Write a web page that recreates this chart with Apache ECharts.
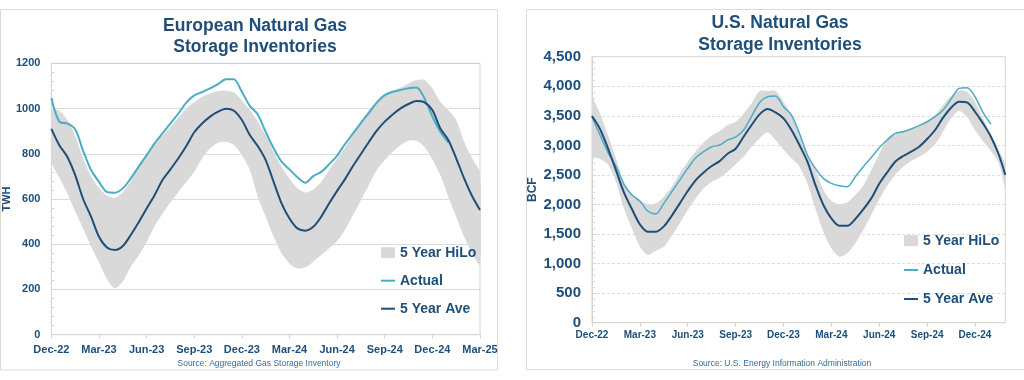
<!DOCTYPE html>
<html><head><meta charset="utf-8">
<script src="https://cdn.jsdelivr.net/npm/echarts@6/dist/echarts.min.js"></script>
<style>html,body{margin:0;padding:0;background:#fff}#c{width:1024px;height:380px}</style>
</head><body><div id="c"></div>
<script>
// ---------- European chart (TWH), x = months since Dec-22 ----------
const euMonths = [0,0.5,1,1.5,2,2.5,3,3.5,4,4.5,5,5.5,6,6.5,7,7.5,8,8.5,9,9.5,10,10.5,11,11.5,12,12.5,13,13.5,14,14.5,15,15.5,16,16.5,17,17.5,18,18.5,19,19.5,20,20.5,21,21.5,22,22.5,23,23.5,24,24.5,25,25.5,26,26.5,27];
const euHi = [993,990,950,880,780,700,650,615,605,630, 680,735,790,840,880,920,960,1000,1028,1052, 1067,1077,1079,1071,1037,993,942,883,809,743, 691,647,629,642,676,728,778,828,887,942, 993,1034,1062,1077,1093,1111,1126,1126,1089,1030, 993,949,853,780,713];
const euLo = [765,695,625,545,470,390,320,245,205,235, 300,350,410,480,535,585,630,675,720,780, 824,849,853,839,794,728,610,522,433,360, 315,293,298,323,352,382,414,463,529,595, 662,728,772,809,839,858,858,831,775,706, 610,522,433,360,308];
const euActual = [1045,942,934,908,813,728,676,631,628,647, 691,743,794,846,890,934,978,1026,1058,1073, 1089,1108,1130,1129,1074,1012,974,897,824,765, 731,696,672,701,720,754,792,843,890,937, 981,1026,1059,1074,1082,1090,1093,1045,964,897, 850,null,null,null,null];
const euAve = [910,838,787,706,600,522,433,386,374,392, 441,497,558,617,684,731,780,834,895,934, 964,986,999,990,949,883,834,772,676,581, 514,470,460,477,522,581,636,688,746,799, 852,902,942,974,1001,1020,1033,1027,993,912, 861,780,691,613,551];
const euTickLabels = ['Dec-22','Mar-23','Jun-23','Sep-23','Dec-23','Mar-24','Jun-24','Sep-24','Dec-24','Mar-25'];

// ---------- U.S. chart (BCF) ----------
const usMonths = [0,0.5,1,1.5,2,2.5,3,3.5,4,4.5,5,5.5,6,6.5,7,7.5,8,8.5,9,9.5,10,10.5,11,11.5,12,12.5,13,13.5,14,14.5,15,15.5,16,16.5,17,17.5,18,18.5,19,19.5,20,20.5,21,21.5,22,22.5,23,23.5,24,24.5,25,25.5,25.9];
const usHi = [3795,3541,3175,2780,2386,2188,2075,2002,2019,2132, 2301,2526,2724,2904,3051,3163,3242,3344,3400,3541, 3710,3919,3919,3919,3739,3513,3203,2837,2583,2245, 2058,2002,2036,2160,2318,2583,2860,3118,3203,3243, 3276,3344,3411,3513,3682,3840,3930,3908,3739,3457, 3175,2921,2667];
const usLo = [2837,2769,2679,2386,1934,1596,1286,1145,1218,1286, 1472,1681,1906,2103,2273,2386,2453,2555,2679,2808, 2977,3118,3220,3090,2932,2780,2639,2357,1934,1540, 1258,1117,1173,1342,1568,1821,2090,2318,2498,2639, 2735,2808,2893,3017,3231,3457,3586,3485,3260,3074, 2904,2695,2273];
const usActual = [3480,3175,2882,2650,2340,2160,2058,1885,1840,2019, 2216,2413,2611,2791,2893,2977,3006,3090,3140,3260, 3490,3722,3823,3834,3654,3513,3203,2837,2611,2442, 2357,2318,2301,2470,2639,2795,2960,3090,3203,3231, 3276,3333,3400,3485,3597,3783,3964,3975,3823,3558, 3360,null,null];
const usAve = [3496,3277,2950,2580,2205,1923,1664,1540,1540,1630, 1810,2019,2227,2413,2543,2650,2734,2858,2943,3146, 3344,3524,3615,3558,3457,3260,3006,2724,2329,1991, 1766,1641,1641,1754,1917,2103,2350,2543,2724,2820, 2893,2977,3107,3260,3468,3637,3739,3727,3569,3372, 3146,2837,2498];
const usTickLabels = ['Dec-22','Mar-23','Jun-23','Sep-23','Dec-23','Mar-24','Jun-24','Sep-24','Dec-24'];

const FONT = '"Liberation Sans", Arial, sans-serif';
const NAVY = '#1f4e79', TEAL = '#4bacc6', GRAY = '#d9d9d9', EDGE = '#d6d6cc';

function pairs(xs, ys) { const o = []; xs.forEach((x, i) => { if (ys[i] != null) o.push([x, ys[i]]); }); return o; }
function tickFmt(labels) { return v => (Math.abs(v / 3 - Math.round(v / 3)) < 1e-6 && labels[Math.round(v / 3)]) ? labels[Math.round(v / 3)] : ''; }

function bandSeries(xi, xs, hi, lo) {
  return {
    name: '5 Year HiLo', type: 'custom', xAxisIndex: xi, yAxisIndex: xi, color: GRAY, itemStyle: { color: GRAY },
    data: xs.map((x, i) => [x, lo[i], hi[i]]), encode: { x: 0, y: [1, 2] }, silent: true, z: 1, clip: true,
    renderItem: function (params, api) {
      if (params.dataIndex !== 0) return null;
      const pts = [];
      for (let i = 0; i < xs.length; i++) pts.push(api.coord([xs[i], hi[i]]));
      for (let i = xs.length - 1; i >= 0; i--) pts.push(api.coord([xs[i], lo[i]]));
      return { type: 'polygon', shape: { points: pts, smooth: 0.25 }, style: { fill: GRAY, stroke: null } };
    }
  };
}
function lineSeries(name, xi, xs, ys, color, w) {
  return { name: name, type: 'line', xAxisIndex: xi, yAxisIndex: xi, data: pairs(xs, ys), symbol: 'none',
    smooth: 0.3, color: color, lineStyle: { color: color, width: w }, z: 3 };
}
function legend(name, icon, left, top, w, h) {
  return { show: true, selectedMode: false, left: left, top: top, padding: 0, itemGap: 0, itemWidth: w, itemHeight: h,
    data: [{ name: name, icon: icon }],
    textStyle: { color: NAVY, fontSize: 14, fontWeight: 'bold', fontFamily: FONT, lineHeight: 16 } };
}

const option = {
  animation: false,
  textStyle: { fontFamily: FONT },
  title: [
    { text: 'European Natural Gas\nStorage Inventories', left: 255, top: 16, textAlign: 'center', padding: 0,
      textStyle: { color: NAVY, fontSize: 17.5, fontWeight: 'bold', lineHeight: 21, fontFamily: FONT } },
    { text: 'U.S. Natural Gas\nStorage Inventories', left: 780, top: 12, textAlign: 'center', padding: 0,
      textStyle: { color: NAVY, fontSize: 17.5, fontWeight: 'bold', lineHeight: 22, fontFamily: FONT } }
  ],
  legend: [
    legend('5 Year HiLo', 'rect', 381, 244.7, 14, 11),
    legend('Actual', 'rect', 381, 272.7, 14, 2),
    legend('5 Year Ave', 'rect', 381, 300.7, 14, 2),
    legend('5 Year HiLo', 'rect', 904, 232.7, 14, 11),
    legend('Actual', 'rect', 904, 262, 14, 2),
    legend('5 Year Ave', 'rect', 904, 291, 14, 2)
  ],
  grid: [
    { left: 48.3, top: 63.3, width: 431.7, height: 271.4, show: true, borderColor: EDGE, borderWidth: 1 },
    { left: 592, top: 56.7, width: 413.3, height: 266, show: true, borderColor: EDGE, borderWidth: 1 }
  ],
  xAxis: [
    { gridIndex: 0, type: 'value', min: 0, max: 27, interval: 3,
      axisLine: { show: true, lineStyle: { color: EDGE } }, axisTick: { show: true, length: 4, lineStyle: { color: EDGE } },
      splitLine: { show: false },
      axisLabel: { formatter: tickFmt(euTickLabels), color: NAVY, fontSize: 11, fontWeight: 'bold', margin: 10, fontFamily: FONT } },
    { gridIndex: 1, type: 'value', min: 0, max: 25.9, interval: 3,
      axisLine: { show: true, lineStyle: { color: EDGE } }, axisTick: { show: true, length: 4, lineStyle: { color: EDGE } },
      splitLine: { show: false },
      axisLabel: { formatter: tickFmt(usTickLabels), color: NAVY, fontSize: 10, fontWeight: 'bold', margin: 8, fontFamily: FONT, showMaxLabel: false } }
  ],
  yAxis: [
    { gridIndex: 0, type: 'value', min: 0, max: 1200, interval: 200,
      name: 'TWH', nameLocation: 'middle', nameGap: 33,
      nameTextStyle: { color: NAVY, fontSize: 11, fontWeight: 'bold', fontFamily: FONT },
      axisLine: { show: true, lineStyle: { color: EDGE } },
      axisTick: { show: true, inside: true, length: 4, lineStyle: { color: EDGE } },
      minorTick: { show: true, splitNumber: 5, length: 3, lineStyle: { color: EDGE } },
      splitLine: { show: true, lineStyle: { color: '#a9bcd2', type: 'dotted', width: 1 } },
      axisLabel: { color: NAVY, fontSize: 11, fontWeight: 'bold', margin: 11, fontFamily: FONT, formatter: v => String(v) } },
    { gridIndex: 1, type: 'value', min: 0, max: 4500, interval: 500,
      name: 'BCF', nameLocation: 'middle', nameGap: 53,
      nameTextStyle: { color: NAVY, fontSize: 12, fontWeight: 'bold', fontFamily: FONT },
      axisLine: { show: true, lineStyle: { color: EDGE } },
      axisTick: { show: true, inside: true, length: 4, lineStyle: { color: EDGE } },
      minorTick: { show: true, splitNumber: 5, length: 3, lineStyle: { color: EDGE } },
      splitLine: { show: true, lineStyle: { color: '#dedede', type: [3, 2], width: 1 } },
      axisLabel: { color: NAVY, fontSize: 15, fontWeight: 'bold', margin: 11, fontFamily: FONT,
        formatter: v => v.toLocaleString('en-US') } }
  ],
  graphic: [
    { type: 'rect', shape: { x: 0.5, y: 9.5, width: 497, height: 360.5 }, style: { fill: 'none', stroke: '#dcdcd4', lineWidth: 1 }, silent: true },
    { type: 'rect', shape: { x: 526.5, y: 9.5, width: 510, height: 360 }, style: { fill: 'none', stroke: '#dcdcd4', lineWidth: 1 }, silent: true },
    { type: 'text', x: 259, y: 364, silent: true,
      style: { text: 'Source: Aggregated Gas Storage Inventory', align: 'center', verticalAlign: 'middle', fill: '#3a6a9c', font: '8.5px "Liberation Sans", Arial, sans-serif' } },
    { type: 'text', x: 782, y: 364, silent: true,
      style: { text: 'Source: U.S. Energy Information Administration', align: 'center', verticalAlign: 'middle', fill: '#3a6a9c', font: '8.5px "Liberation Sans", Arial, sans-serif' } }
  ],
  series: [
    bandSeries(0, euMonths, euHi, euLo),
    lineSeries('Actual', 0, euMonths, euActual, TEAL, 2),
    lineSeries('5 Year Ave', 0, euMonths, euAve, NAVY, 2),
    bandSeries(1, usMonths, usHi, usLo),
    lineSeries('Actual', 1, usMonths, usActual, TEAL, 1.5),
    lineSeries('5 Year Ave', 1, usMonths, usAve, NAVY, 2)
  ]
};
const chart = echarts.init(document.getElementById('c'), null, { renderer: 'canvas' });
chart.setOption(option);
</script></body></html>
